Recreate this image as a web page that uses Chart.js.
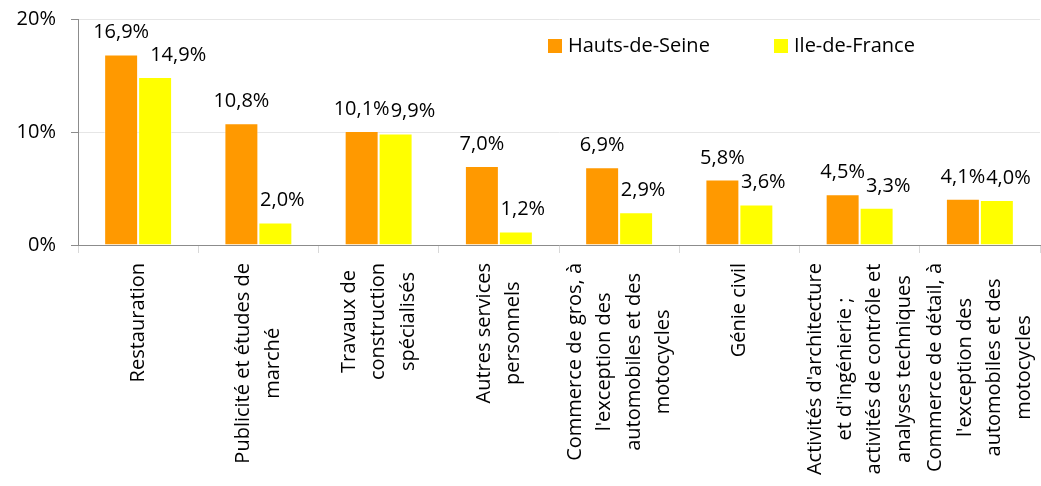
<!DOCTYPE html>
<html>
<head>
<meta charset="utf-8">
<script src="https://cdn.jsdelivr.net/npm/chart.js@4.4.1/dist/chart.umd.min.js"></script>
<style>
  body { margin: 0; background: #fff; }
  #wrap { width: 1041px; height: 486px; }
</style>
</head>
<body>
<div id="wrap"><canvas id="myChart" width="1041" height="486"></canvas></div>
<script>
// categories (split in lines like the original axis)
const categories = [
    ['Restauration'],
    ['Publicité et études de', 'marché'],
    ['Travaux de', 'construction', 'spécialisés'],
    ['Autres services', 'personnels'],
    ['Commerce de gros, à', "l'exception des", 'automobiles et des', 'motocycles'],
    ['Génie civil'],
    ["Activités d'architecture", "et d'ingénierie ;", 'activités de contrôle et', 'analyses techniques'],
    ['Commerce de détail, à', "l'exception des", 'automobiles et des', 'motocycles']
];
const hautsDeSeine = [16.9, 10.8, 10.1, 7.0, 6.9, 5.8, 4.5, 4.1];
const ileDeFrance = [14.9, 2.0, 9.9, 1.2, 2.9, 3.6, 3.3, 4.0];
const yTicks = [0, 10, 20];

const FONT = '"Open Sans", sans-serif';
const textColor = '#000';

const fmt = v => v.toFixed(1).replace('.', ',') + '%';

// value labels above bars (yellow label pushed right if it hits the orange one)
const valueLabels = {
    id: 'valueLabels',
    afterDatasetsDraw(chart) {
        const ctx = chart.ctx;
        ctx.save();
        ctx.font = '20px ' + FONT;
        ctx.fillStyle = textColor;
        ctx.textAlign = 'center';
        ctx.textBaseline = 'alphabetic';
        const m0 = chart.getDatasetMeta(0), m1 = chart.getDatasetMeta(1);
        categories.forEach((c, j) => {
            const t0 = fmt(hautsDeSeine[j]), t1 = fmt(ileDeFrance[j]);
            const b0 = m0.data[j], b1 = m1.data[j];
            const w0 = ctx.measureText(t0).width, w1 = ctx.measureText(t1).width;
            const x0 = b0.x;
            let x1 = b1.x + 7;
            const overlap = (x0 + w0 / 2 + 1) - (x1 - w1 / 2);
            if (overlap > 0 && Math.abs(b0.y - b1.y) < 24) x1 += overlap;
            ctx.fillText(t0, x0, b0.y - 16);
            ctx.fillText(t1, x1, b1.y - 16);
        });
        ctx.restore();
    }
};

// vertical category labels, lines centred on each other
const catLabels = {
    id: 'catLabels',
    afterDraw(chart) {
        const ctx = chart.ctx;
        const xs = chart.scales.x;
        const top = chart.chartArea.bottom + 18;
        const lineH = 29.5;
        ctx.save();
        ctx.font = '20px ' + FONT;
        ctx.fillStyle = textColor;
        ctx.textAlign = 'center';
        ctx.textBaseline = 'middle';
        categories.forEach((lines, i) => {
            const x = xs.getPixelForValue(i);
            const maxW = Math.max(...lines.map(l => ctx.measureText(l).width));
            ctx.save();
            ctx.translate(x, top + maxW / 2);
            ctx.rotate(-Math.PI / 2);
            lines.forEach((l, k) => {
                ctx.fillText(l, 0, (k - (lines.length - 1) / 2) * lineH);
            });
            ctx.restore();
        });
        ctx.restore();
    }
};

// legend inside the plot, top right
const innerLegend = {
    id: 'innerLegend',
    afterDraw(chart) {
        const ctx = chart.ctx;
        const starts = [548, 774];
        ctx.save();
        ctx.font = '20px ' + FONT;
        ctx.textBaseline = 'middle';
        ctx.textAlign = 'left';
        chart.data.datasets.forEach((ds, i) => {
            ctx.fillStyle = ds.backgroundColor;
            ctx.fillRect(starts[i], 39, 14, 14);
            ctx.fillStyle = textColor;
            ctx.fillText(ds.label, starts[i] + 20, 46);
        });
        ctx.restore();
    }
};

new Chart(document.getElementById('myChart'), {
    type: 'bar',
    data: {
        labels: categories,
        datasets: [
            { label: 'Hauts-de-Seine', data: hautsDeSeine, backgroundColor: '#FF9900',
              borderColor: 'rgba(255,255,255,0.5)', borderWidth: 1 },
            { label: 'Ile-de-France', data: ileDeFrance, backgroundColor: '#FFFF00',
              borderColor: 'rgba(255,255,255,0.5)', borderWidth: 1 }
        ]
    },
    options: {
        responsive: false,
        animation: false,
        layout: { padding: { top: 19.5, right: 1, left: 0, bottom: 0 } },
        categoryPercentage: 0.565,
        barPercentage: 1,
        plugins: { legend: { display: false }, tooltip: { enabled: false } },
        scales: {
            x: {
                offset: true,
                grid: { offset: true, drawOnChartArea: false, tickLength: 8, color: '#d9d9d9' },
                border: { color: '#8c8c8c' },
                ticks: { display: false },
                afterFit(scale) {
                    scale.height = 241;
                    scale.paddingLeft = 0;
                    scale.paddingRight = 0;
                }
            },
            y: {
                min: 0,
                max: 20,
                afterBuildTicks(scale) { scale.ticks = yTicks.map(v => ({ value: v })); },
                ticks: {
                    callback: v => v + '%',
                    font: { family: FONT, size: 20 },
                    color: textColor,
                    padding: 15
                },
                grid: { color: '#e6e6e6', tickLength: 7, tickColor: '#8c8c8c' },
                border: { color: '#8c8c8c' },
                afterFit(scale) {
                    scale.width = 78;
                    scale.paddingTop = 0;
                    scale.paddingBottom = 0;
                }
            }
        }
    },
    plugins: [valueLabels, catLabels, innerLegend]
});
</script>
</body>
</html>
